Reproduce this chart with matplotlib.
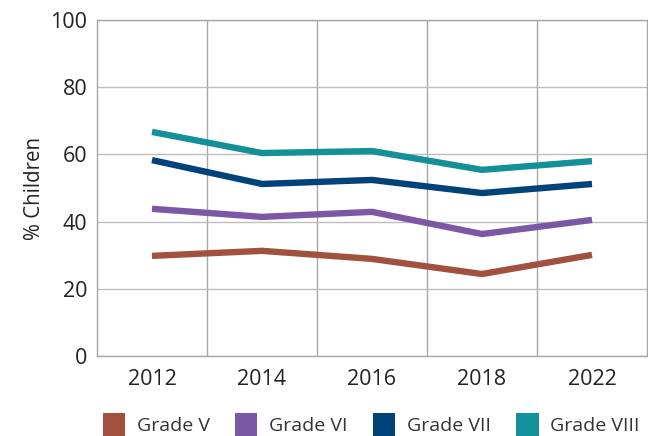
import numpy as np
import matplotlib
matplotlib.use("Agg")
import matplotlib.pyplot as plt
from matplotlib.patches import Patch

plt.rcParams['font.family'] = ['Open Sans', 'DejaVu Sans']

years = ['2012', '2014', '2016', '2018', '2022']
grade_v = [29.8, 31.3, 28.9, 24.4, 30.1]
grade_vi = [43.8, 41.4, 42.9, 36.3, 40.5]
grade_vii = [58.3, 51.2, 52.4, 48.5, 51.2]
grade_viii = [66.7, 60.4, 61.0, 55.4, 58.0]

series = [('Grade V', grade_v, '#A0523F'),
          ('Grade VI', grade_vi, '#7B58A6'),
          ('Grade VII', grade_vii, '#00437B'),
          ('Grade VIII', grade_viii, '#14909A')]

fig = plt.figure(figsize=(6.48, 4.36), dpi=100)
ax = fig.add_axes([97/648, 80/436, 550/648, 336/436])

x = np.arange(len(years))
for name, vals, col in series:
    ax.plot(x, vals, color=col, lw=4.6, solid_capstyle='butt', solid_joinstyle='miter')

ax.set_xlim(-0.5, len(years) - 0.5)
ax.set_ylim(0, 100)
ax.set_yticks(np.arange(0, 101, 20))
ax.set_xticks(x)
ax.set_xticklabels(years)
ax.set_xticks(np.arange(0.5, len(years) - 0.5, 1), minor=True)
ax.grid(False)
ax.grid(which='minor', axis='x', color='#A6A6A6', lw=1)
ax.grid(which='major', axis='y', color='#BDBDBD', lw=1)
ax.tick_params(axis='both', which='both', length=0, labelsize=15.5, colors='#222222')
ax.tick_params(axis='x', pad=9)
ax.tick_params(axis='y', pad=7)
for s in ax.spines.values():
    s.set_color('#A6A6A6')
    s.set_linewidth(1)
ax.set_axisbelow(True)
ax.set_ylabel('% Children', fontsize=14.8, color='#222222', labelpad=4)

handles = [Patch(facecolor=c, edgecolor='none') for _, _, c in series]
fig.legend(handles, [n for n, _, _ in series], loc='center', ncol=4,
           bbox_to_anchor=(0.573, 11/436), frameon=False, fontsize=14,
           handlelength=1.15, handleheight=1.6, handletextpad=0.6,
           columnspacing=1.3, borderpad=0, labelcolor='#333333')

fig.savefig('out.png', dpi=100)
